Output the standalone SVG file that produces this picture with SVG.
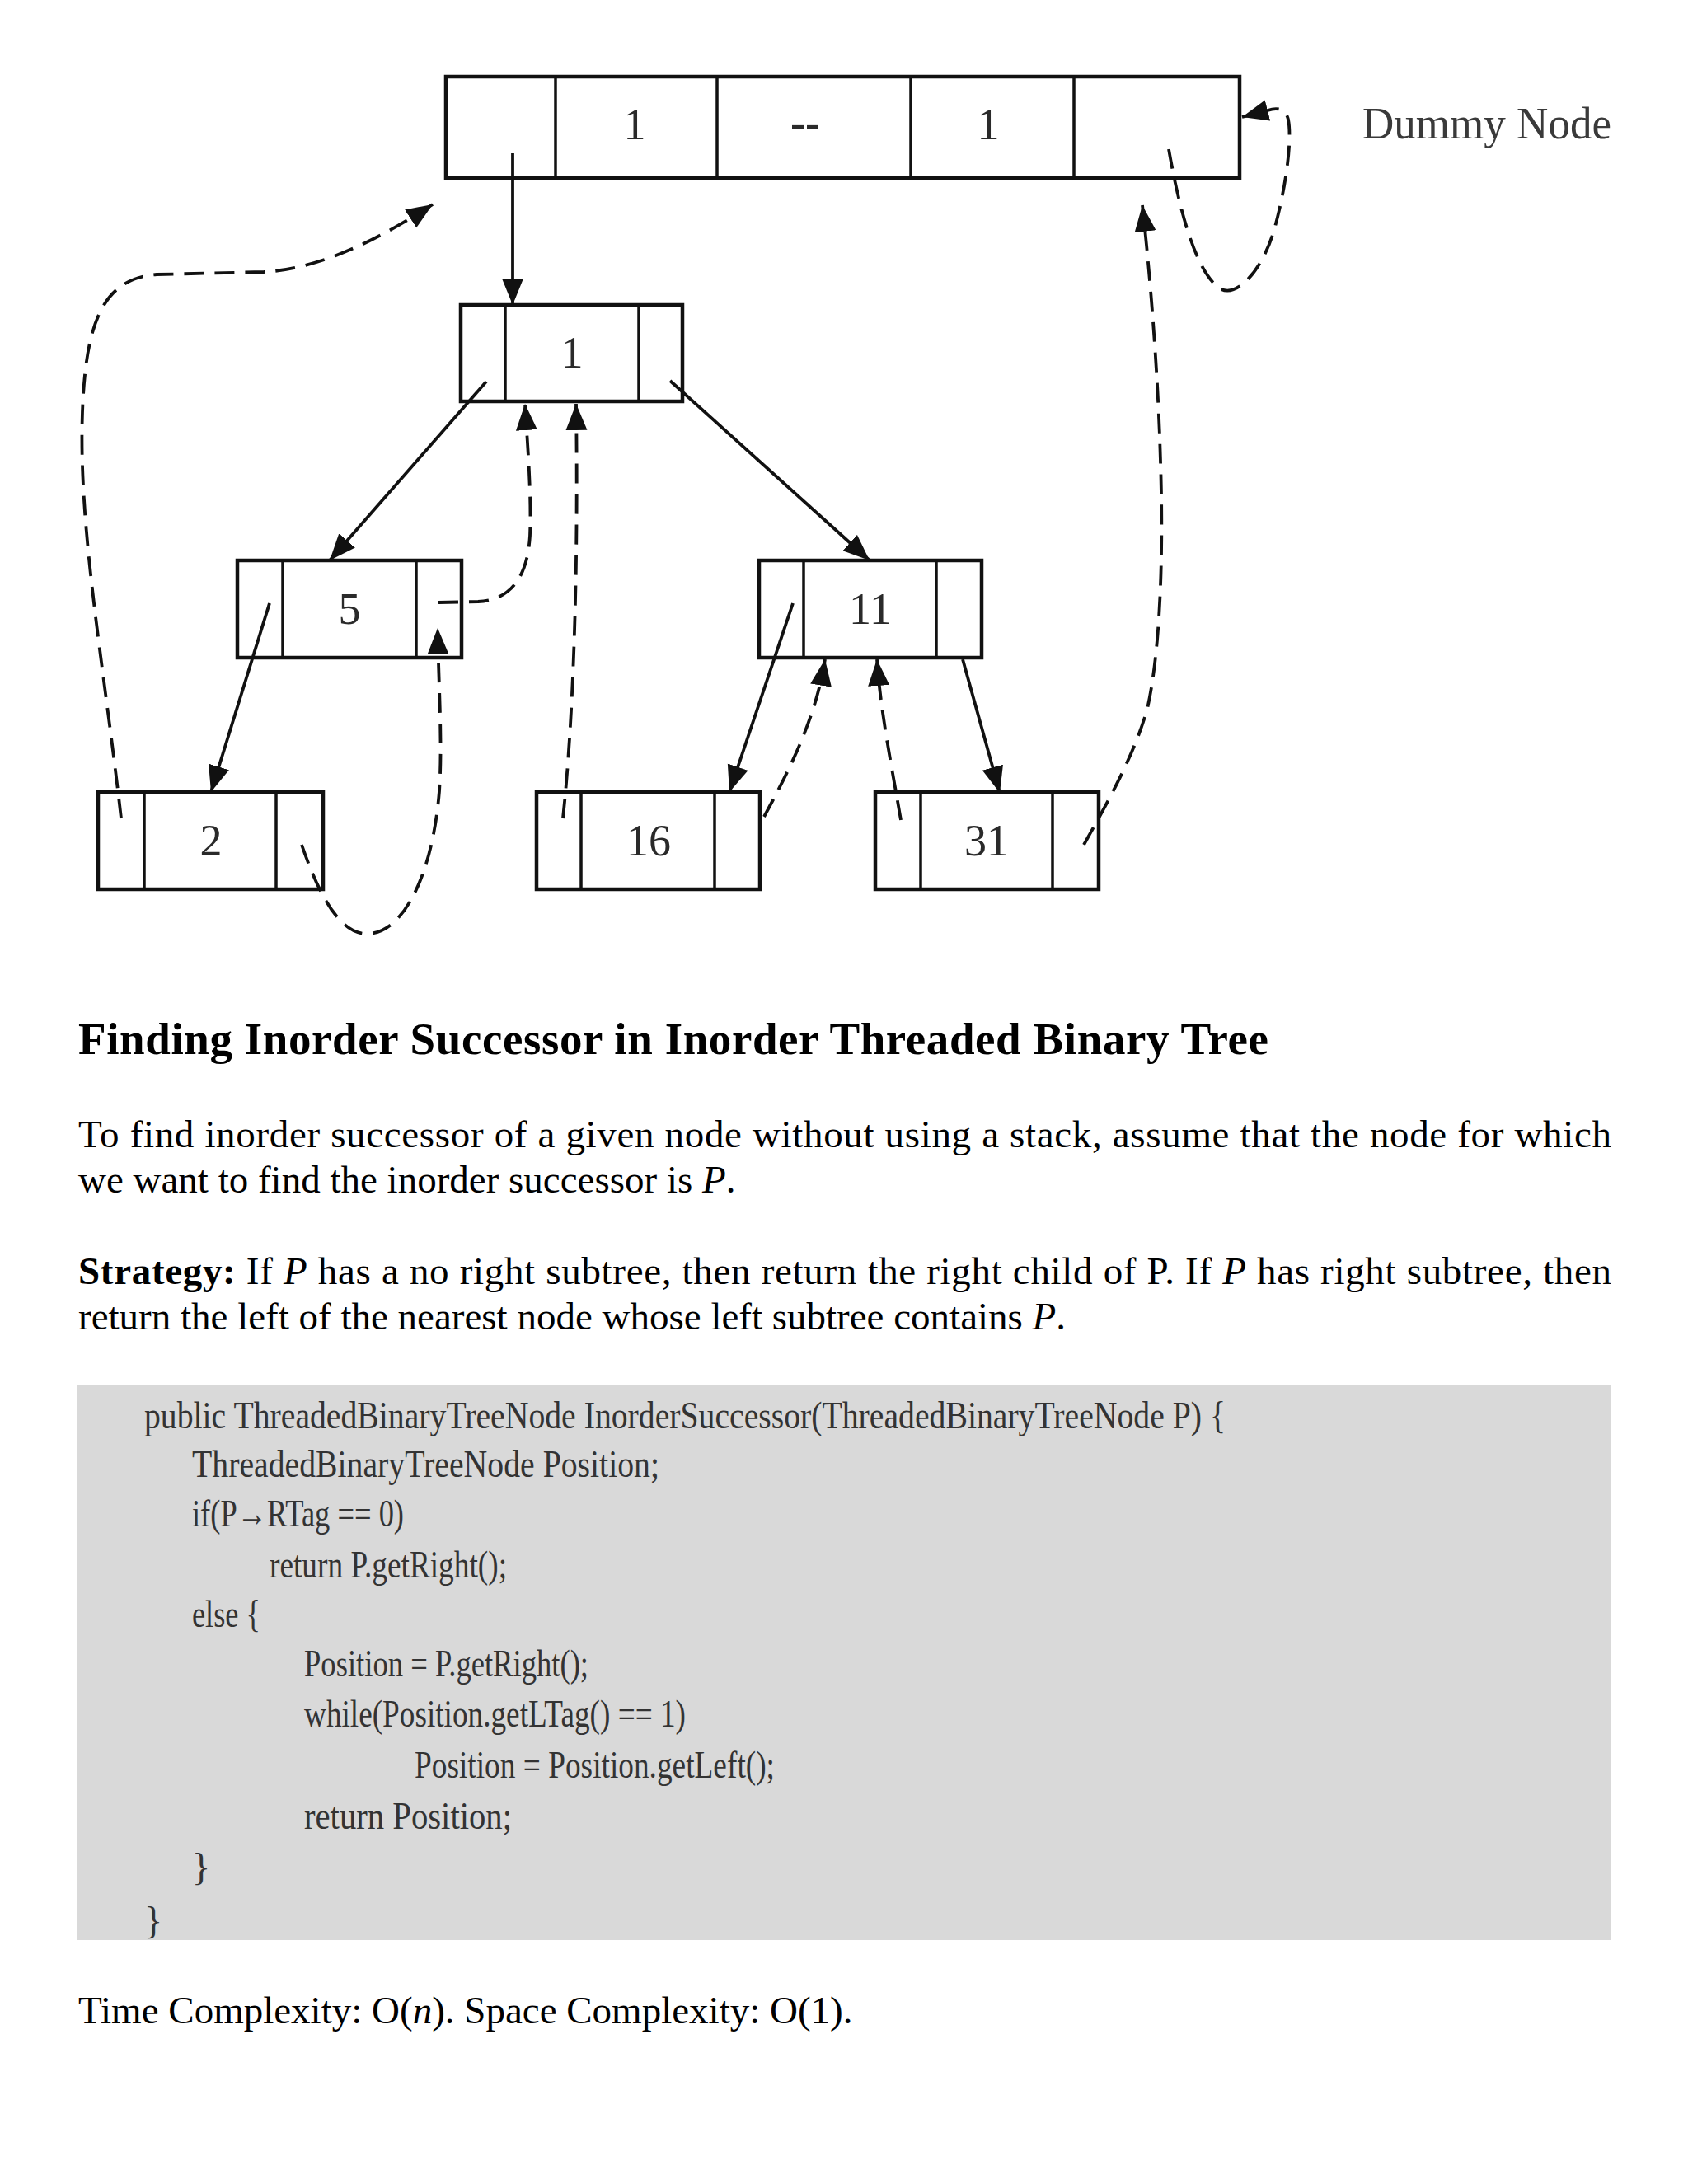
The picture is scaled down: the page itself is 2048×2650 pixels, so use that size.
<svg xmlns="http://www.w3.org/2000/svg" width="2048" height="2650" viewBox="0 0 2048 2650">
<style>
.box{fill:#fff;stroke:#111;stroke-width:4.5}
.div{stroke:#111;stroke-width:3.5}
.num{font-family:"Liberation Serif",serif;font-size:54px;fill:#2a2a2a;text-anchor:middle}
.solid{fill:none;stroke:#111;stroke-width:3.8}
.dash{fill:none;stroke:#111;stroke-width:3.8;stroke-dasharray:24 13}
.body{font-family:"Liberation Serif",serif;font-size:47px;fill:#000}
.code{font-family:"Liberation Serif",serif;font-size:46px;fill:#333}
</style>
<defs>
<marker id="ah" markerUnits="userSpaceOnUse" markerWidth="34" markerHeight="28" refX="32" refY="13" orient="auto">
<path d="M0,0 L32,13 L0,26 z" fill="#111"/>
</marker>
</defs>
<rect width="2048" height="2650" fill="#fff"/>

<g id="dummy">
<rect class="box" x="541" y="93" width="963" height="123"/>
<line class="div" x1="674" y1="93" x2="674" y2="216"/>
<line class="div" x1="870" y1="93" x2="870" y2="216"/>
<line class="div" x1="1105" y1="93" x2="1105" y2="216"/>
<line class="div" x1="1303" y1="93" x2="1303" y2="216"/>
<text class="num" x="770" y="169">1</text>
<text class="num" x="977" y="167">--</text>
<text class="num" x="1199" y="169">1</text>
</g>
<g id="dummy-label">
<text x="1653" y="168" font-family="Liberation Serif, serif" font-size="54" fill="#3a3a3a" textLength="302" lengthAdjust="spacingAndGlyphs">Dummy Node</text>
</g>

<g id="node-1">
<rect class="box" x="559" y="370" width="269" height="117"/>
<line class="div" x1="613" y1="370" x2="613" y2="487"/>
<line class="div" x1="775" y1="370" x2="775" y2="487"/>
<text class="num" x="694" y="446">1</text>
</g>
<g id="node-5">
<rect class="box" x="288" y="680" width="272" height="118"/>
<line class="div" x1="343" y1="680" x2="343" y2="798"/>
<line class="div" x1="505" y1="680" x2="505" y2="798"/>
<text class="num" x="424" y="757">5</text>
</g>
<g id="node-11">
<rect class="box" x="921" y="680" width="270" height="118"/>
<line class="div" x1="975" y1="680" x2="975" y2="798"/>
<line class="div" x1="1136" y1="680" x2="1136" y2="798"/>
<text class="num" x="1056" y="757">11</text>
</g>
<g id="node-2">
<rect class="box" x="119" y="961" width="273" height="118"/>
<line class="div" x1="175" y1="961" x2="175" y2="1079"/>
<line class="div" x1="335" y1="961" x2="335" y2="1079"/>
<text class="num" x="256" y="1038">2</text>
</g>
<g id="node-16">
<rect class="box" x="651" y="961" width="271" height="118"/>
<line class="div" x1="705" y1="961" x2="705" y2="1079"/>
<line class="div" x1="867" y1="961" x2="867" y2="1079"/>
<text class="num" x="787" y="1038">16</text>
</g>
<g id="node-31">
<rect class="box" x="1062" y="961" width="271" height="118"/>
<line class="div" x1="1117" y1="961" x2="1117" y2="1079"/>
<line class="div" x1="1277" y1="961" x2="1277" y2="1079"/>
<text class="num" x="1197" y="1038">31</text>
</g>

<g id="connectors">
<path class="solid" d="M622,186 L622,370" marker-end="url(#ah)"/>
<path class="solid" d="M590,463 L400,680" marker-end="url(#ah)"/>
<path class="solid" d="M813,462 L1055,680" marker-end="url(#ah)"/>
<path class="solid" d="M327,732 L256,961" marker-end="url(#ah)"/>
<path class="solid" d="M962,732 L885,961" marker-end="url(#ah)"/>
<path class="solid" d="M1168,800 L1213,962" marker-end="url(#ah)"/>

<path class="dash" d="M147,993 C125,800 95,640 100,500 C104,390 125,338 190,333 L320,330 C390,326 460,290 525,248" marker-end="url(#ah)"/>
<path class="dash" d="M366,1025 C385,1080 410,1133 445,1133 C490,1133 525,1060 533,960 C537,900 532,830 531,762" marker-end="url(#ah)"/>
<path class="dash" d="M532,731 L580,730 C620,728 640,700 643,650 C645,600 640,540 637,490" marker-end="url(#ah)"/>
<path class="dash" d="M683,993 C695,880 702,700 699,490" marker-end="url(#ah)"/>
<path class="dash" d="M927,991 C960,930 990,870 1001,800" marker-end="url(#ah)"/>
<path class="dash" d="M1093,995 C1080,920 1068,860 1064,800" marker-end="url(#ah)"/>
<path class="dash" d="M1315,1025 C1340,980 1375,920 1392,860 C1410,780 1411,650 1408,560 C1405,450 1395,330 1386,249" marker-end="url(#ah)"/>
<path class="dash" d="M1418,181 C1430,250 1450,330 1480,350 C1500,362 1530,330 1545,282 C1560,230 1568,170 1563,145 C1560,132 1550,130 1538,134 L1507,142" marker-end="url(#ah)"/>
</g>

<g id="text">
<text x="95" y="1279" font-family="Liberation Serif, serif" font-size="55" font-weight="bold" fill="#000" textLength="1444" lengthAdjust="spacing">Finding Inorder Successor in Inorder Threaded Binary Tree</text>
<text class="body" x="95" y="1392" textLength="1860" lengthAdjust="spacing">To find inorder successor of a given node without using a stack, assume that the node for which</text>
<text class="body" x="95" y="1447">we want to find the inorder successor is <tspan font-style="italic">P</tspan>.</text>
<text class="body" x="95" y="1558" textLength="1860" lengthAdjust="spacing"><tspan font-weight="bold">Strategy:</tspan> If <tspan font-style="italic">P</tspan> has a no right subtree, then return the right child of P. If <tspan font-style="italic">P</tspan> has right subtree, then</text>
<text class="body" x="95" y="1613">return the left of the nearest node whose left subtree contains <tspan font-style="italic">P</tspan>.</text>
<text class="body" x="95" y="2455">Time Complexity: O(<tspan font-style="italic">n</tspan>). Space Complexity: O(1).</text>
</g>

<g id="code">
<rect x="93" y="1681" width="1862" height="673" fill="#d9d9d9"/>
<text class="code" x="175" y="1733" textLength="1312" lengthAdjust="spacingAndGlyphs">public ThreadedBinaryTreeNode InorderSuccessor(ThreadedBinaryTreeNode P) {</text>
<text class="code" x="233" y="1792" textLength="567" lengthAdjust="spacingAndGlyphs">ThreadedBinaryTreeNode Position;</text>
<text class="code" x="233" y="1852" textLength="257" lengthAdjust="spacingAndGlyphs">if(P→RTag == 0)</text>
<text class="code" x="327" y="1914" textLength="288" lengthAdjust="spacingAndGlyphs">return P.getRight();</text>
<text class="code" x="233" y="1974" textLength="83" lengthAdjust="spacingAndGlyphs">else {</text>
<text class="code" x="369" y="2034" textLength="345" lengthAdjust="spacingAndGlyphs">Position = P.getRight();</text>
<text class="code" x="369" y="2095" textLength="463" lengthAdjust="spacingAndGlyphs">while(Position.getLTag() == 1)</text>
<text class="code" x="503" y="2157" textLength="437" lengthAdjust="spacingAndGlyphs">Position = Position.getLeft();</text>
<text class="code" x="369" y="2219" textLength="252" lengthAdjust="spacingAndGlyphs">return Position;</text>
<text class="code" x="233" y="2281">}</text>
<text class="code" x="175" y="2346">}</text>
</g>
</svg>
